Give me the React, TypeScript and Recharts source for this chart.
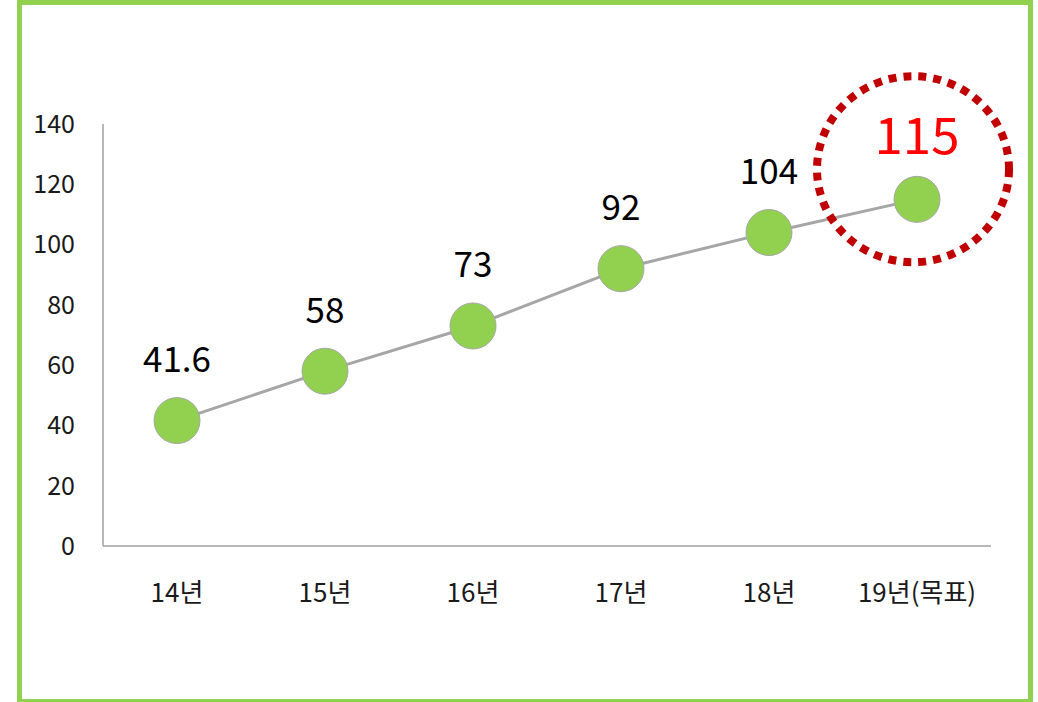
import React from "react";
import { LineChart, Line, XAxis, YAxis, ReferenceDot } from "recharts";

const categories = ["14년", "15년", "16년", "17년", "18년", "19년(목표)"];
const values = [41.6, 58, 73, 92, 104, 115];
const labels = ["41.6", "58", "73", "92", "104", "115"];
const yTicks = [0, 20, 40, 60, 80, 100, 120, 140];
const highlightIndex = 5;
const highlightCenterValue = 125;

const data = categories.map((c, i) => ({ name: c, value: values[i], label: labels[i] }));

const FONT = '"Noto Sans CJK KR", "Noto Sans", sans-serif';

const renderLabel = (props: any) => {
  const { x, y, index } = props;
  const hl = index === highlightIndex;
  return (
    <text
      x={x}
      y={y - (hl ? 67 : 64)}
      textAnchor="middle"
      dominantBaseline="central"
      fontSize={hl ? 51 : 35}
      fill={hl ? "#ff0000" : "#000000"}
      fontFamily={FONT}
    >
      {labels[index]}
    </text>
  );
};

const Highlight = (props: any) => {
  const { cx, cy } = props;
  return (
    <ellipse
      cx={cx - 4}
      cy={cy}
      rx={96}
      ry={93}
      fill="none"
      stroke="#c00000"
      strokeWidth={8}
      strokeDasharray="8 7"
    />
  );
};

export default function App() {
  return (
    <div style={{ position: "absolute", left: 0, top: 0, width: 1038, height: 702, overflow: "hidden", background: "#fff" }}>
      <div
        style={{
          position: "absolute",
          left: 17,
          top: 0,
          width: 1016,
          height: 704,
          boxSizing: "border-box",
          border: "5px solid #92d050",
        }}
      />
      <div style={{ position: "absolute", left: 0, top: 0 }}>
        <LineChart
          width={1038}
          height={702}
          data={data}
          margin={{ top: 124, right: 47, bottom: 126, left: 43 }}
        >
          <XAxis
            dataKey="name"
            height={30}
            padding={{ left: 74, right: 74 }}
            tickLine={false}
            tickSize={0}
            tickMargin={38}
            axisLine={{ stroke: "#a0a0a0", strokeWidth: 1.5 }}
            tick={{ fill: "#1a1a1a", fontSize: 26, fontFamily: FONT }}
            interval={0}
          />
          <YAxis
            width={60}
            domain={[0, 140]}
            ticks={yTicks}
            tickLine={false}
            tickSize={0}
            tickMargin={28}
            axisLine={{ stroke: "#a0a0a0", strokeWidth: 1.5 }}
            tick={{ fill: "#1a1a1a", fontSize: 25, fontFamily: FONT }}
          />
          <Line
            dataKey="value"
            stroke="#a6a6a6"
            strokeWidth={3}
            isAnimationActive={false}
            dot={{ r: 23, fill: "#92d050", stroke: "#a6a6a6", strokeWidth: 1, fillOpacity: 1 }}
            activeDot={false}
            label={renderLabel}
          />
          <ReferenceDot
            x={categories[highlightIndex]}
            y={highlightCenterValue}
            r={96}
            shape={Highlight}
          />
        </LineChart>
      </div>
    </div>
  );
}
